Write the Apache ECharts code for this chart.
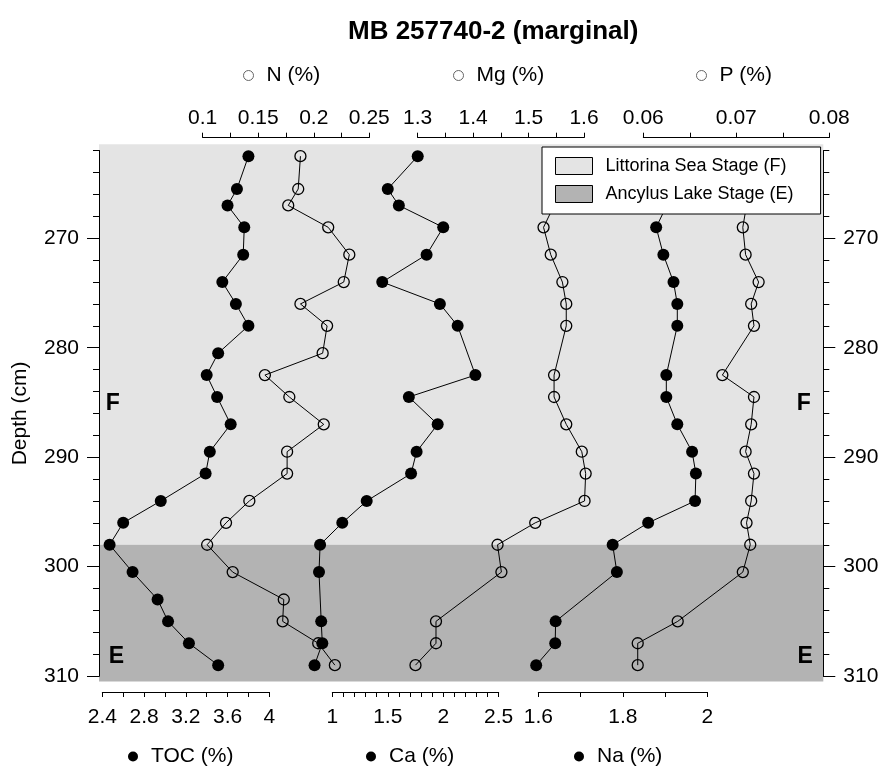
<!DOCTYPE html>
<html>
<head>
<meta charset="utf-8">
<title>MB 257740-2 (marginal)</title>
<script src="https://cdn.jsdelivr.net/npm/echarts@6/dist/echarts.min.js"></script>
<style>
  html, body { margin: 0; padding: 0; background: #fff; }
  #chart { width: 880px; height: 766px; }
</style>
</head>
<body>
<div id="chart"></div>
<script>
// ---- Data ----------------------------------------------------------------
// Sample depths (cm) for TOC and N
const depthsA = [262.5, 265.5, 267, 269, 271.5, 274, 276, 278, 280.5, 282.5, 284.5,
                 287, 289.5, 291.5, 294, 296, 298, 300.5, 303, 305, 307, 309];
// Sample depths (cm) for Ca, Mg, Na and P
const depthsB = [262.5, 265.5, 267, 269, 271.5, 274, 276, 278, 282.5, 284.5,
                 287, 289.5, 291.5, 294, 296, 298, 300.5, 305, 307, 309];

const toc        = [3.80, 3.69, 3.60, 3.76, 3.75, 3.55, 3.68, 3.80, 3.51, 3.40, 3.50,
                    3.63, 3.43, 3.39, 2.96, 2.60, 2.47, 2.69, 2.93, 3.03, 3.23, 3.51];
const nitrogen   = [0.188, 0.186, 0.177, 0.213, 0.232, 0.227, 0.188, 0.212, 0.208, 0.156, 0.178,
                    0.209, 0.176, 0.176, 0.142, 0.121, 0.104, 0.127, 0.173, 0.172, 0.204, 0.219];
const calcium    = [1.77, 1.50, 1.60, 2.00, 1.85, 1.45, 1.97, 2.13, 2.29, 1.69,
                    1.95, 1.76, 1.71, 1.31, 1.09, 0.89, 0.88, 0.90, 0.91, 0.84];
const magnesium  = [null, null, 1.546, 1.527, 1.540, 1.561, 1.568, 1.568, 1.546, 1.546,
                    1.568, 1.596, 1.603, 1.601, 1.512, 1.444, 1.451, 1.333, 1.333, 1.296];
const sodium     = [null, null, 1.904, 1.879, 1.896, 1.920, 1.929, 1.929, 1.903, 1.903,
                    1.929, 1.964, 1.973, 1.971, 1.860, 1.776, 1.786, 1.641, 1.640, 1.595];
const phosphorus = [null, null, 0.0711, 0.0707, 0.0710, 0.0724, 0.0716, 0.0719, 0.0685, 0.0719,
                    0.0716, 0.0710, 0.0719, 0.0716, 0.0711, 0.0715, 0.0707, 0.0637, 0.0594, 0.0594];

// Depth axis ticks
const depthTicks = [270, 280, 290, 300, 310];
const depthMinorTicks = [262, 264, 266, 268, 270, 272, 274, 276, 278, 280, 282, 284, 286,
                         288, 290, 292, 294, 296, 298, 300, 302, 304, 306, 308, 310];

// Stratigraphic stages (depth ranges, cm)
const stageNames = ['Littorina Sea Stage (F)', 'Ancylus Lake Stage (E)'];
const stageTop = [261.4, 298];
const stageBase = [298, 310.5];
const stageLetters = ['F', 'F', 'E', 'E'];
const stageLetterDepths = [285.1, 285.1, 308.2, 308.2];

// ---- Layout --------------------------------------------------------------
const FONT = '"Liberation Sans", Arial, Helvetica, sans-serif';
const W = 880, H = 766;
const DEPTH_MIN = 262, DEPTH_MAX = 310;
const PLOT_TOP = 150.7, PLOT_BOT = 676.1;
const PLOT_LEFT = 99, PLOT_RIGHT = 823.3;
const PX_PER_CM = (PLOT_BOT - PLOT_TOP) / (DEPTH_MAX - DEPTH_MIN);
const LETTER_X = [0.019, 0.973, 0.024, 0.975]; // fraction of plot width

const STAGE_COLORS = ['#e4e4e4', '#b3b3b3'];

const panels = [
  { name: 'TOC (%)', values: toc,        depths: depthsA, min: 2.4,  max: 4,    interval: 0.4,  minor: 2, x0: 102.3, x1: 269.3, side: 'bottom', filled: true,  legendLeft: 128 },
  { name: 'N (%)',   values: nitrogen,   depths: depthsA, min: 0.1,  max: 0.25, interval: 0.05, minor: 2, x0: 202.7, x1: 369.3, side: 'top',    filled: false, legendLeft: 243 },
  { name: 'Ca (%)',  values: calcium,    depths: depthsB, min: 1,    max: 2.5,  interval: 0.5,  minor: 5, x0: 332.3, x1: 498.7, side: 'bottom', filled: true,  legendLeft: 366 },
  { name: 'Mg (%)',  values: magnesium,  depths: depthsB, min: 1.3,  max: 1.6,  interval: 0.1,  minor: 2, x0: 417.7, x1: 584.0, side: 'top',    filled: false, legendLeft: 453 },
  { name: 'Na (%)',  values: sodium,     depths: depthsB, min: 1.6,  max: 2,    interval: 0.2,  minor: 2, x0: 538.3, x1: 707.3, side: 'bottom', filled: true,  legendLeft: 574 },
  { name: 'P (%)',   values: phosphorus, depths: depthsB, min: 0.06, max: 0.08, interval: 0.01, minor: 2, x0: 643.3, x1: 829.3, side: 'top',    filled: false, legendLeft: 696 }
];

const TOP_AXIS_Y = 137.7, BOTTOM_AXIS_Y = 692;
const DATA_PAD = 0.2; // extra scale room on each side so points beyond the drawn axis stay visible

const grid = [], xAxis = [], yAxis = [], series = [], legend = [];

function addGrid(g) { grid.push(Object.assign({ outerBoundsMode: 'none', containLabel: false }, g)); return grid.length - 1; }
function addX(a) { xAxis.push(a); return xAxis.length - 1; }
function addY(a) { yAxis.push(a); return yAxis.length - 1; }

// Stage bands (slightly taller than the depth axis)
const bandTopPx = PLOT_TOP - (DEPTH_MIN - stageTop[0]) * PX_PER_CM;
const bandBotPx = PLOT_BOT + (stageBase[1] - DEPTH_MAX) * PX_PER_CM;
const gBand = addGrid({ left: PLOT_LEFT, right: W - PLOT_RIGHT, top: bandTopPx, bottom: H - bandBotPx });
const xBand = addX({ type: 'value', gridIndex: gBand, min: 0, max: 1, show: false });
const yBand = addY({ type: 'value', gridIndex: gBand, min: stageTop[0], max: stageBase[1], inverse: true, show: false });

// Depth frame with left and right axes
const gFrame = addGrid({ left: PLOT_LEFT, right: W - PLOT_RIGHT, top: PLOT_TOP, bottom: H - PLOT_BOT });
const xFrame = addX({ type: 'value', gridIndex: gFrame, min: 0, max: 1, show: false });
let yFrame = -1;

const axisLineStyle = { lineStyle: { color: '#000', width: 1 } };
['left', 'right'].forEach(pos => {
  // minor ticks every 2 cm
  const idx = addY({
    type: 'value', gridIndex: gFrame, position: pos, min: DEPTH_MIN, max: DEPTH_MAX, inverse: true,
    axisLine: { show: true, ...axisLineStyle },
    axisTick: { show: true, customValues: depthMinorTicks, length: 6, lineStyle: { color: '#000' } },
    axisLabel: { show: false }, splitLine: { show: false }, z: 3
  });
  if (yFrame < 0) yFrame = idx;
  // major ticks and labels every 10 cm
  addY({
    type: 'value', gridIndex: gFrame, position: pos, min: DEPTH_MIN, max: DEPTH_MAX, inverse: true,
    name: pos === 'left' ? 'Depth (cm)' : '',
    nameLocation: 'middle', nameGap: 68,
    nameTextStyle: { fontFamily: FONT, fontSize: 21, color: '#000' },
    axisLine: { show: true, ...axisLineStyle },
    axisTick: { show: true, customValues: depthTicks, length: 12, lineStyle: { color: '#000' } },
    axisLabel: { show: true, customValues: depthTicks, margin: 20,
                 fontFamily: FONT, fontSize: 21, color: '#000' },
    splitLine: { show: false }, z: 3
  });
});

// Stage bands
stageNames.forEach((name, i) => {
  series.push({
    type: 'line', name, xAxisIndex: xBand, yAxisIndex: yBand, data: [], z: 0, silent: true,
    itemStyle: { color: STAGE_COLORS[i] },
    lineStyle: { color: STAGE_COLORS[i] },
    markArea: {
      silent: true,
      itemStyle: { color: STAGE_COLORS[i] },
      data: [[{ yAxis: stageTop[i] }, { yAxis: stageBase[i] }]]
    }
  });
});

// Stage letters
series.push({
  type: 'scatter', xAxisIndex: xFrame, yAxisIndex: yFrame, z: 1, silent: true,
  symbolSize: 1, itemStyle: { color: 'rgba(0,0,0,0)', opacity: 1 },
  data: stageLetters.map((t, i) => ({ name: t, value: [LETTER_X[i], stageLetterDepths[i]] })),
  label: { show: true, position: 'inside', formatter: p => p.name, opacity: 1,
           fontFamily: FONT, fontSize: 23, fontWeight: 'bold', color: '#000' }
});

// Geochemistry panels: a drawn axis plus a wider hidden scale for the profile
panels.forEach(p => {
  const top = p.side === 'top';
  const gAxis = addGrid({ left: p.x0, width: p.x1 - p.x0, top: PLOT_TOP, bottom: H - PLOT_BOT });
  addX({
    type: 'value', gridIndex: gAxis, position: p.side,
    offset: top ? PLOT_TOP - TOP_AXIS_Y : BOTTOM_AXIS_Y - PLOT_BOT,
    min: p.min, max: p.max, interval: p.interval,
    axisLine: { show: true, onZero: false, ...axisLineStyle },
    axisTick: { show: true, length: 5, lineStyle: { color: '#000' } },
    minorTick: { show: true, splitNumber: p.minor, length: 5, lineStyle: { color: '#000', width: 1 } },
    axisLabel: { show: true, margin: top ? 9 : 15, fontFamily: FONT, fontSize: 21, color: '#000',
                 showMinLabel: true, showMaxLabel: true, hideOverlap: false },
    splitLine: { show: false }, minorSplitLine: { show: false }
  });
  addY({ type: 'value', gridIndex: gAxis, min: DEPTH_MIN, max: DEPTH_MAX, inverse: true, show: false });

  const span = p.max - p.min;
  const pxPerUnit = (p.x1 - p.x0) / span;
  const dMin = p.min - span * DATA_PAD, dMax = p.max + span * DATA_PAD;
  const gData = addGrid({
    left: p.x0 - span * DATA_PAD * pxPerUnit, width: (dMax - dMin) * pxPerUnit,
    top: PLOT_TOP, bottom: H - PLOT_BOT
  });
  const xi = addX({ type: 'value', gridIndex: gData, min: dMin, max: dMax, show: false });
  const yi = addY({ type: 'value', gridIndex: gData, min: DEPTH_MIN, max: DEPTH_MAX, inverse: true, show: false });

  const data = [];
  p.depths.forEach((d, j) => { if (p.values[j] != null) data.push([p.values[j], d]); });
  series.push({
    type: 'line', name: p.name, xAxisIndex: xi, yAxisIndex: yi,
    data, clip: false, z: 2, silent: true,
    symbol: 'circle', symbolSize: p.filled ? 12 : 11, showAllSymbol: true,
    itemStyle: p.filled ? { color: '#000', borderWidth: 0 }
                        : { color: 'rgba(0,0,0,0)', borderColor: '#000', borderWidth: 1.3 },
    lineStyle: { color: '#000', width: 1 },
    emphasis: { disabled: true }
  });
  legend.push({
    data: [p.name], left: p.legendLeft, top: top ? 65 : 746, padding: 0,
    icon: 'circle', itemWidth: 10, itemHeight: 10, selectedMode: false,
    itemStyle: p.filled ? { color: '#000', borderWidth: 0 }
                        : { color: 'rgba(0,0,0,0)', borderColor: '#666', borderWidth: 1 },
    textStyle: { fontFamily: FONT, fontSize: 21, color: '#000', padding: [0, 0, 0, 8] }
  });
});

// Stage legend box
legend.push({
  data: stageNames, orient: 'vertical', left: 542, top: 147, z: 10,
  backgroundColor: '#fff', borderColor: '#000', borderWidth: 1,
  padding: [10, 27, 11, 13], itemGap: 10, itemWidth: 37, itemHeight: 17,
  icon: 'rect', selectedMode: false,
  itemStyle: { borderColor: '#000', borderWidth: 1 },
  textStyle: { fontFamily: FONT, fontSize: 18, color: '#000', padding: [0, 0, 0, 8] }
});

const chart = echarts.init(document.getElementById('chart'), null, { renderer: 'canvas' });
chart.setOption({
  backgroundColor: '#fff',
  animation: false,
  title: {
    text: 'MB 257740-2 (marginal)', left: 343, top: 14,
    textStyle: { fontFamily: FONT, fontSize: 26, fontWeight: 'bold', color: '#000' }
  },
  grid, xAxis, yAxis, series, legend,
  tooltip: { show: false }
});
</script>
</body>
</html>
